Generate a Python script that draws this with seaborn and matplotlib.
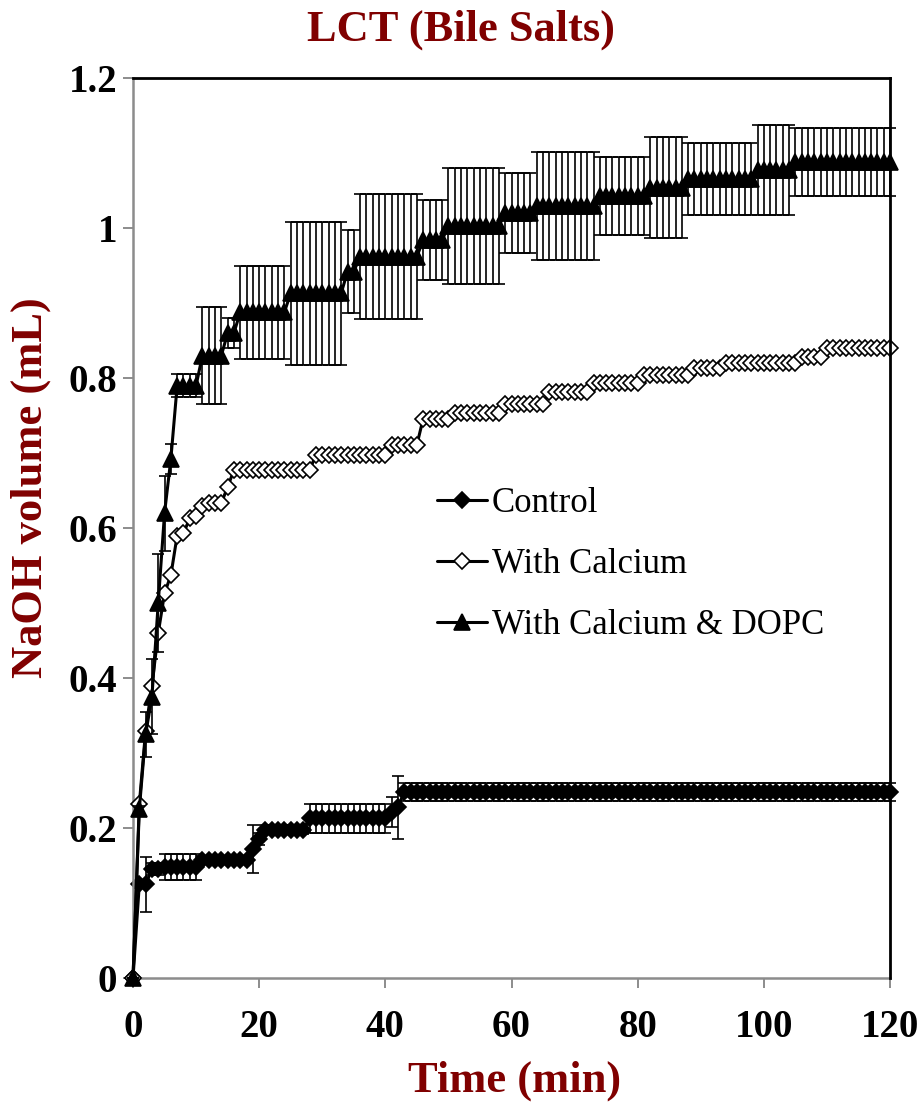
import numpy as np
import pandas as pd
import matplotlib
matplotlib.use("Agg")
import matplotlib.pyplot as plt
import seaborn as sns

# Sampling times (min): one titration reading per minute
time_min = np.arange(0, 121)

# Each series is stored as plateaus: level (mL), SD (mL), number of readings
control_level = [0.0, 0.125, 0.125, 0.145, 0.148, 0.158, 0.172, 0.185, 0.198, 0.213, 0.222, 0.228, 0.248]
control_sd = [0.0, 0.005, 0.037, 0.008, 0.017, 0.005, 0.032, 0.008, 0.006, 0.019, 0.020, 0.042, 0.012]
control_count = [1, 1, 1, 2, 6, 8, 1, 1, 7, 13, 1, 1, 78]

calcium_level = [0.0, 0.232, 0.33, 0.39, 0.46, 0.513, 0.537, 0.59, 0.593, 0.613, 0.616, 0.63,
                 0.633, 0.655, 0.677, 0.698, 0.711, 0.746, 0.753, 0.766, 0.782, 0.793, 0.804,
                 0.813, 0.82, 0.828, 0.84]
calcium_count = [1, 1, 1, 1, 1, 1, 1, 1, 1, 1, 1, 1,
                 3, 1, 13, 12, 5, 5, 8, 7, 7, 8, 8, 5, 12, 4, 11]

dopc_level = [0.0, 0.225, 0.325, 0.375, 0.50, 0.62, 0.692, 0.79, 0.83, 0.86, 0.888, 0.913,
              0.942, 0.962, 0.984, 1.003, 1.02, 1.03, 1.043, 1.054, 1.066, 1.078, 1.088]
dopc_sd = [0.0, 0.005, 0.03, 0.05, 0.065, 0.05, 0.02, 0.015, 0.065, 0.02, 0.062, 0.095,
           0.055, 0.083, 0.053, 0.077, 0.053, 0.072, 0.052, 0.067, 0.048, 0.06, 0.045]
dopc_count = [1, 1, 1, 1, 1, 1, 1, 4, 4, 2, 8, 9, 2, 10, 4, 9, 5, 10, 8, 6, 11, 6, 16]

series_names = ["Control", "With Calcium", "With Calcium & DOPC"]

x_ticks = [0, 20, 40, 60, 80, 100, 120]
y_ticks = [0, 0.2, 0.4, 0.6, 0.8, 1.0, 1.2]
y_tick_labels = ["0", "0.2", "0.4", "0.6", "0.8", "1", "1.2"]


def expand(levels, counts):
    return np.repeat(np.asarray(levels, float), counts)


control = expand(control_level, control_count)
control_err = expand(control_sd, control_count)
calcium = expand(calcium_level, calcium_count)
dopc = expand(dopc_level, dopc_count)
dopc_err = expand(dopc_sd, dopc_count)

df = pd.concat([
    pd.DataFrame({"time": time_min, "volume": control, "sd": control_err, "series": series_names[0]}),
    pd.DataFrame({"time": time_min, "volume": calcium, "sd": 0.0, "series": series_names[1]}),
    pd.DataFrame({"time": time_min, "volume": dopc, "sd": dopc_err, "series": series_names[2]}),
], ignore_index=True)

sns.set_theme(style="white")
plt.rcParams["font.family"] = ["Liberation Serif", "DejaVu Serif"]
plt.rcParams["text.color"] = "black"

dark_red = "#800000"
fig = plt.figure(figsize=(9.23, 11.10), dpi=100)
ax = fig.add_axes([0.1441, 0.1189, 0.8202, 0.8108])

styles = {
    "Control": dict(marker="D", markersize=8.5, markerfacecolor="black"),
    "With Calcium": dict(marker="D", markersize=8.5, markerfacecolor="white"),
    "With Calcium & DOPC": dict(marker="^", markersize=11.5, markerfacecolor="black"),
}

for i, name in enumerate(series_names):
    sub = df[df["series"] == name]
    if (sub["sd"] > 0).any():
        eb = ax.errorbar(sub["time"], sub["volume"], yerr=sub["sd"], fmt="none",
                         ecolor="black", elinewidth=1.2, capsize=4.3, capthick=1.2,
                         zorder=2 + i)
        for art in eb.lines[1] + eb.lines[2]:
            art.set_clip_on(False)
    sns.lineplot(data=sub, x="time", y="volume", ax=ax, color="black", linewidth=2.2,
                 markeredgecolor="black", markeredgewidth=1.2, errorbar=None,
                 label=name, clip_on=False, zorder=2.5 + i, **styles[name])

ax.set_xlim(0, 120)
ax.set_ylim(0, 1.2)
ax.set_xticks(x_ticks)
ax.set_xticklabels([str(v) for v in x_ticks])
ax.set_yticks(y_ticks)
ax.set_yticklabels(y_tick_labels)
ax.set_xlabel("")
ax.set_ylabel("")

for side in ("left", "bottom"):
    ax.spines[side].set_color("#8c8c8c")
    ax.spines[side].set_linewidth(1.8)
for side in ("top", "right"):
    ax.spines[side].set_color("black")
    ax.spines[side].set_linewidth(2.0)
    ax.spines[side].set_zorder(10)

ax.tick_params(axis="both", which="major", direction="out", length=7.5, width=1.4,
               color="#8c8c8c", labelsize=28, labelcolor="black")
ax.tick_params(axis="x", pad=15)
ax.tick_params(axis="y", pad=4)
ax.xaxis.set_ticks_position("bottom")
ax.yaxis.set_ticks_position("left")
for lab in ax.get_xticklabels() + ax.get_yticklabels():
    lab.set_fontweight("bold")

fig.text(0.499, 1 - 30 / 1110, "LCT (Bile Salts)", ha="center", va="center",
         fontsize=32, fontweight="bold", color=dark_red)
fig.text(0.557, 1 - 1081 / 1110, "Time (min)", ha="center", va="center",
         fontsize=32, fontweight="bold", color=dark_red)
fig.text(0.033, 1 - 488 / 1110, "NaOH volume (mL)", ha="center", va="center",
         rotation=90, fontsize=32, fontweight="bold", color=dark_red)

handles, labels = ax.get_legend_handles_labels()
keep = [(h, l) for h, l in zip(handles, labels) if l in series_names]
leg = ax.legend([h for h, _ in keep], [l for _, l in keep], loc="upper left",
                bbox_to_anchor=(437 / 923, 1 - 487 / 1110), bbox_transform=fig.transFigure,
                frameon=False, borderpad=0, borderaxespad=0, handlelength=1.45,
                handletextpad=0.12, labelspacing=0.81, fontsize=25)
for txt in leg.get_texts():
    txt.set_color("black")

fig.savefig("out.png", dpi=100, facecolor="white")
